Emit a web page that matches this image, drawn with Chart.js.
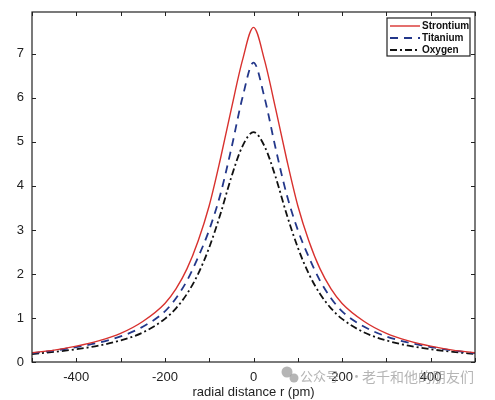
<!DOCTYPE html>
<html>
<head>
<meta charset="utf-8">
<script src="https://cdn.jsdelivr.net/npm/chart.js@4.4.0/dist/chart.umd.min.js"></script>
<style>
  html, body { margin: 0; padding: 0; background: #fff; }
  #wrap { width: 495px; height: 400px; }
</style>
</head>
<body>
<div id="wrap"><canvas id="chart" width="495" height="400"></canvas></div>
<script>
// radial distance r (pm)
var radius = [-500, -450, -400, -350, -300, -250, -200, -175, -150, -125, -100, -75, -50, -25, 0,
              25, 50, 75, 100, 125, 150, 175, 200, 250, 300, 350, 400, 450, 500];
var strontium = [0.21, 0.27, 0.36, 0.48, 0.65, 0.92, 1.33, 1.66, 2.12, 2.75, 3.55, 4.6, 5.75, 6.85, 7.6,
                 6.85, 5.75, 4.6, 3.55, 2.75, 2.12, 1.66, 1.33, 0.92, 0.65, 0.48, 0.36, 0.27, 0.21];
var titanium = [0.2, 0.26, 0.34, 0.44, 0.58, 0.8, 1.15, 1.45, 1.85, 2.38, 3.0, 3.8, 4.85, 6.0, 6.8,
                6.0, 4.85, 3.8, 3.0, 2.38, 1.85, 1.45, 1.15, 0.8, 0.58, 0.44, 0.34, 0.26, 0.2];
var oxygen = [0.18, 0.23, 0.29, 0.37, 0.49, 0.67, 0.98, 1.22, 1.55, 2.0, 2.6, 3.35, 4.2, 4.9, 5.22,
              4.9, 4.2, 3.35, 2.6, 2.0, 1.55, 1.22, 0.98, 0.67, 0.49, 0.37, 0.29, 0.23, 0.18];

var xTicks = [-500, -400, -300, -200, -100, 0, 100, 200, 300, 400, 500];
var xLabels = [-400, -200, 0, 200, 400];
var yTicks = [0, 1, 2, 3, 4, 5, 6, 7];

function points(ys) {
    return radius.map(function (r, i) { return { x: r, y: ys[i] }; });
}

// box, inward tick marks on all four sides, legend and watermark
var framePlugin = {
    id: 'frame',
    afterDraw: function (chart) {
        var ctx = chart.ctx;
        var a = chart.chartArea;
        var xs = chart.scales.x, ys = chart.scales.y;
        ctx.save();
        ctx.strokeStyle = '#222';
        ctx.lineWidth = 1.2;
        ctx.strokeRect(a.left, a.top, a.right - a.left, a.bottom - a.top);
        ctx.lineWidth = 1;
        ctx.beginPath();
        xTicks.forEach(function (v) {
            var px = Math.round(xs.getPixelForValue(v)) + 0.5;
            ctx.moveTo(px, a.bottom); ctx.lineTo(px, a.bottom - 4);
            ctx.moveTo(px, a.top); ctx.lineTo(px, a.top + 4);
        });
        yTicks.forEach(function (v) {
            var py = Math.round(ys.getPixelForValue(v)) + 0.5;
            ctx.moveTo(a.left, py); ctx.lineTo(a.left + 4, py);
            ctx.moveTo(a.right, py); ctx.lineTo(a.right - 4, py);
        });
        ctx.stroke();

        // legend
        var lx = 387, ly = 18, lw = 83, lh = 38;
        ctx.fillStyle = '#fff';
        ctx.fillRect(lx, ly, lw, lh);
        ctx.strokeStyle = '#222';
        ctx.lineWidth = 1.2;
        ctx.strokeRect(lx, ly, lw, lh);
        ctx.font = 'bold 10px "Liberation Sans", Arial, sans-serif';
        ctx.textBaseline = 'middle';
        chart.data.datasets.forEach(function (ds, i) {
            var yy = ly + 8 + i * 12;
            ctx.strokeStyle = ds.borderColor;
            ctx.lineWidth = ds.borderWidth;
            ctx.setLineDash(ds.borderDash || []);
            ctx.beginPath();
            ctx.moveTo(lx + 3, yy); ctx.lineTo(lx + 33, yy);
            ctx.stroke();
            ctx.setLineDash([]);
            ctx.fillStyle = '#111';
            ctx.fillText(ds.label, lx + 35, yy);
        });

        // watermark
        ctx.fillStyle = 'rgba(150,150,150,0.7)';
        ctx.font = '13px "Noto Sans CJK SC", sans-serif';
        ctx.fillText('公众号', 300, 376);
        ctx.fillText('·', 350, 376);
        ctx.font = '14px "Noto Sans CJK SC", sans-serif';
        ctx.fillText('老千和他的朋友们', 362, 377);
        ctx.beginPath();
        ctx.arc(287, 372, 5.5, 0, Math.PI * 2);
        ctx.fill();
        ctx.beginPath();
        ctx.arc(294, 378, 4.5, 0, Math.PI * 2);
        ctx.fill();
        ctx.restore();
    }
};

new Chart(document.getElementById('chart'), {
    type: 'line',
    data: {
        datasets: [
            { label: 'Strontium', data: points(strontium), borderColor: '#d8312e', borderWidth: 1.4, fill: false },
            { label: 'Titanium', data: points(titanium), borderColor: '#23378a', borderWidth: 1.8, borderDash: [8, 6], fill: false },
            { label: 'Oxygen', data: points(oxygen), borderColor: '#111', borderWidth: 1.8, borderDash: [7, 3, 2, 3], fill: false }
        ]
    },
    options: {
        responsive: false,
        animation: false,
        layout: { padding: { top: 12, right: 20, left: 0, bottom: 0 } },
        elements: { point: { radius: 0 }, line: { cubicInterpolationMode: 'monotone' } },
        plugins: { legend: { display: false }, tooltip: { enabled: false } },
        scales: {
            x: {
                type: 'linear',
                min: -500, max: 500,
                border: { display: false },
                grid: { display: false },
                afterBuildTicks: function (s) { s.ticks = xLabels.map(function (v) { return { value: v }; }); },
                afterFit: function (s) { s.height = 38; },
                ticks: { color: '#222', font: { family: '"Liberation Sans", Arial, sans-serif', size: 13 }, padding: 0, maxRotation: 0 },
                title: { display: true, text: 'radial distance r (pm)', color: '#222',
                         font: { family: '"Liberation Sans", Arial, sans-serif', size: 13 }, padding: { top: -4, bottom: 0 } }
            },
            y: {
                min: 0, max: 7.95,
                border: { display: false },
                grid: { display: false },
                afterBuildTicks: function (s) { s.ticks = yTicks.map(function (v) { return { value: v }; }); },
                afterFit: function (s) { s.width = 32; },
                ticks: { color: '#222', font: { family: '"Liberation Sans", Arial, sans-serif', size: 13 }, padding: 0 }
            }
        }
    },
    plugins: [framePlugin]
});
</script>
</body>
</html>
